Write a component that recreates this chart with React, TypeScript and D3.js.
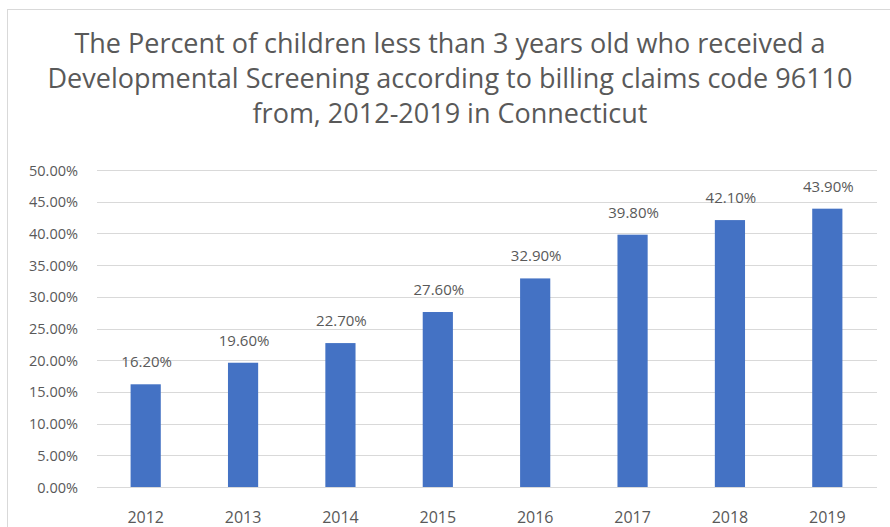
import React from "react";
import * as d3 from "d3";

const years = ["2012", "2013", "2014", "2015", "2016", "2017", "2018", "2019"];
const values = [16.2, 19.6, 22.7, 27.6, 32.9, 39.8, 42.1, 43.9];
const yTicks = [0, 5, 10, 15, 20, 25, 30, 35, 40, 45, 50];
const titleLines = [
  "The Percent of children less than 3 years old who received a",
  "Developmental Screening according to billing claims code 96110",
  "from, 2012-2019 in Connecticut",
];

const W = 890;
const H = 527;
const FONT = "'Open Sans', sans-serif";
const GRAY = "#595959";

export default function App() {
  const x = d3.scaleBand<string>().domain(years).range([97, 876]).paddingInner(0.69).paddingOuter(0.345);
  const y = d3.scaleLinear().domain([0, 50]).range([487, 170]);
  return (
    <div style={{ position: "absolute", left: 0, top: 0 }}>
      <svg width={W} height={H} style={{ display: "block", background: "#fff" }}>
        <rect x={7.5} y={9.5} width={W + 10} height={H + 10} fill="#fff" stroke="#d9d9d9" />
        {titleLines.map((t, i) => (
          <text key={i} x={450} y={53 + i * 35} textAnchor="middle" fontFamily={FONT} fontSize={27} fill={GRAY}>
            {t}
          </text>
        ))}
        {yTicks.map((t) => (
          <g key={t}>
            <line x1={97} x2={877} y1={Math.round(y(t)) + 0.5} y2={Math.round(y(t)) + 0.5} stroke="#d9d9d9" />
            <text x={78} y={y(t) + 5.5} textAnchor="end" fontFamily={FONT} fontSize={14.5} fill={GRAY}>
              {t.toFixed(2)}%
            </text>
          </g>
        ))}
        {values.map((v, i) => (
          <g key={years[i]}>
            <rect x={x(years[i])} y={y(v)} width={x.bandwidth()} height={y(0) - y(v)} fill="#4472C4" />
            <text x={(x(years[i]) as number) + x.bandwidth() / 2 + 1} y={y(v) - 17} textAnchor="middle" fontFamily={FONT} fontSize={15} fill={GRAY}>
              {v.toFixed(2)}%
            </text>
          </g>
        ))}
        {years.map((yr) => (
          <text key={yr} x={(x(yr) as number) + x.bandwidth() / 2} y={523} textAnchor="middle" fontFamily={FONT} fontSize={16} fill={GRAY}>
            {yr}
          </text>
        ))}
      </svg>
    </div>
  );
}
